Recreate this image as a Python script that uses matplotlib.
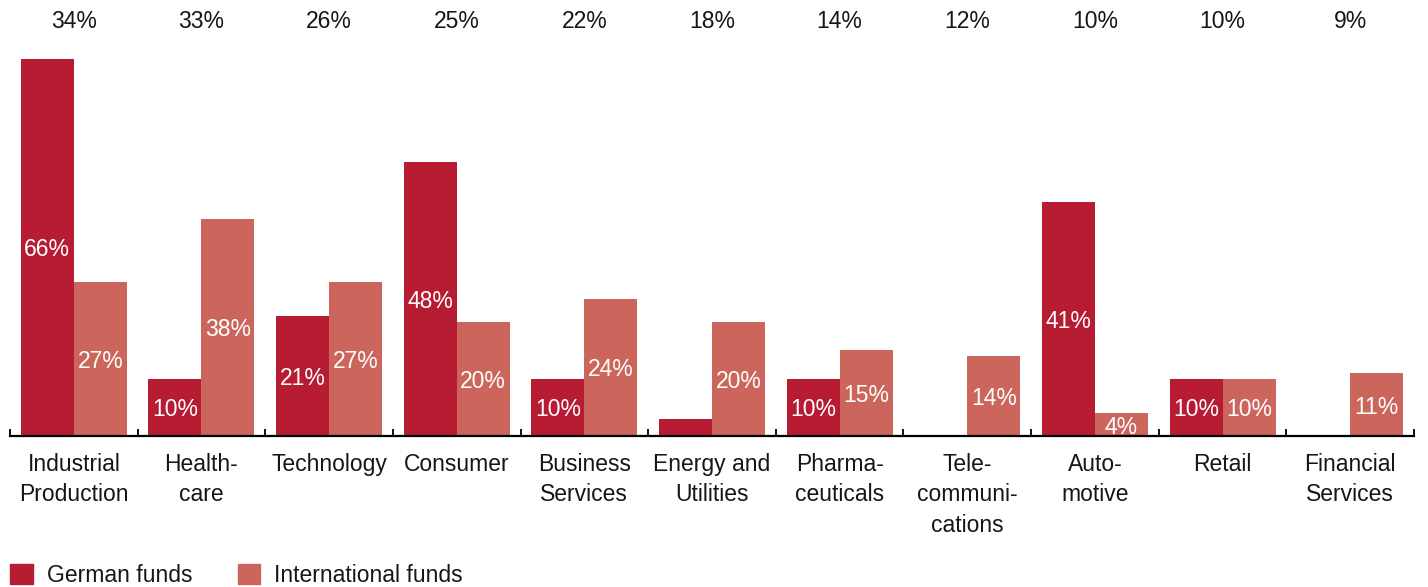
import matplotlib
matplotlib.use("Agg")
import matplotlib.pyplot as plt
import matplotlib.transforms as mtransforms
from matplotlib.patches import Patch
import numpy as np

# Sector shares of portfolio companies, German vs international funds (%)
categories = ["Industrial\nProduction", "Health-\ncare", "Technology", "Consumer",
              "Business\nServices", "Energy and\nUtilities", "Pharma-\nceuticals",
              "Tele-\ncommuni-\ncations", "Auto-\nmotive", "Retail", "Financial\nServices"]
german = [66, 10, 21, 48, 10, 3, 10, 0, 41, 10, 0]
international = [27, 38, 27, 20, 24, 20, 15, 14, 4, 10, 11]
german_labels = ["66%", "10%", "21%", "48%", "10%", "", "10%", "", "41%", "10%", ""]
international_labels = ["27%", "38%", "27%", "20%", "24%", "20%", "15%", "14%", "4%", "10%", "11%"]
totals = ["34%", "33%", "26%", "25%", "22%", "18%", "14%", "12%", "10%", "10%", "9%"]

GERMAN_COLOR = "#B71C32"
INTL_COLOR = "#CC665C"
TEXT_COLOR = "#161616"

plt.rcParams["font.family"] = ["Liberation Sans", "DejaVu Sans"]
FS = 16.5

fig = plt.figure(figsize=(14.28, 5.87), dpi=100)
ax = fig.add_axes([10 / 1428, 151 / 587, 1404 / 1428, 400 / 587])

x = np.arange(len(categories))
width = 0.415
b1 = ax.bar(x - width, german, width, align="edge", color=GERMAN_COLOR, zorder=1)
b2 = ax.bar(x, international, width, align="edge", color=INTL_COLOR, zorder=1)

# white value labels centred inside each bar
for bars, labels in ((b1, german_labels), (b2, international_labels)):
    for bar, lab in zip(bars, labels):
        if not lab:
            continue
        ax.text(bar.get_x() + bar.get_width() / 2, bar.get_height() / 2, lab,
                ha="center", va="center_baseline", color="white", fontsize=FS)

ax.set_xlim(-0.5, len(categories) - 0.5)
ax.set_ylim(0, 70)

for side in ("top", "right", "left"):
    ax.spines[side].set_visible(False)
ax.spines["bottom"].set_linewidth(1.6)
ax.spines["bottom"].set_zorder(3)
ax.set_yticks([])

# tick marks at group boundaries
ax.set_xticks(np.arange(len(categories) + 1) - 0.5)
ax.set_xticklabels([])
ax.tick_params(axis="x", which="major", direction="in", length=5, width=1.4, color="#111111")

# category names below the axis
for xi, cat in zip(x, categories):
    ax.annotate(cat, xy=(xi, 0), xycoords=("data", "axes fraction"),
                xytext=(0, -12), textcoords="offset points",
                ha="center", va="top", fontsize=FS, linespacing=1.42, color=TEXT_COLOR)

# total share above each group
top_tr = mtransforms.blended_transform_factory(ax.transData, fig.transFigure)
for xi, t in zip(x, totals):
    ax.text(xi, 1 - 21.5 / 587, t, transform=top_tr, ha="center", va="center",
            fontsize=FS, color=TEXT_COLOR)

handles = [Patch(color=GERMAN_COLOR, label="German funds"),
           Patch(color=INTL_COLOR, label="International funds")]
leg = fig.legend(handles=handles, loc="lower left", bbox_to_anchor=(8 / 1428, -2 / 587),
                 ncol=2, frameon=False, fontsize=FS, handlelength=0.97, handleheight=0.97,
                 handletextpad=0.62, columnspacing=2.0, borderpad=0.1, borderaxespad=0)
for txt in leg.get_texts():
    txt.set_color(TEXT_COLOR)

fig.savefig("out.png", dpi=100)
